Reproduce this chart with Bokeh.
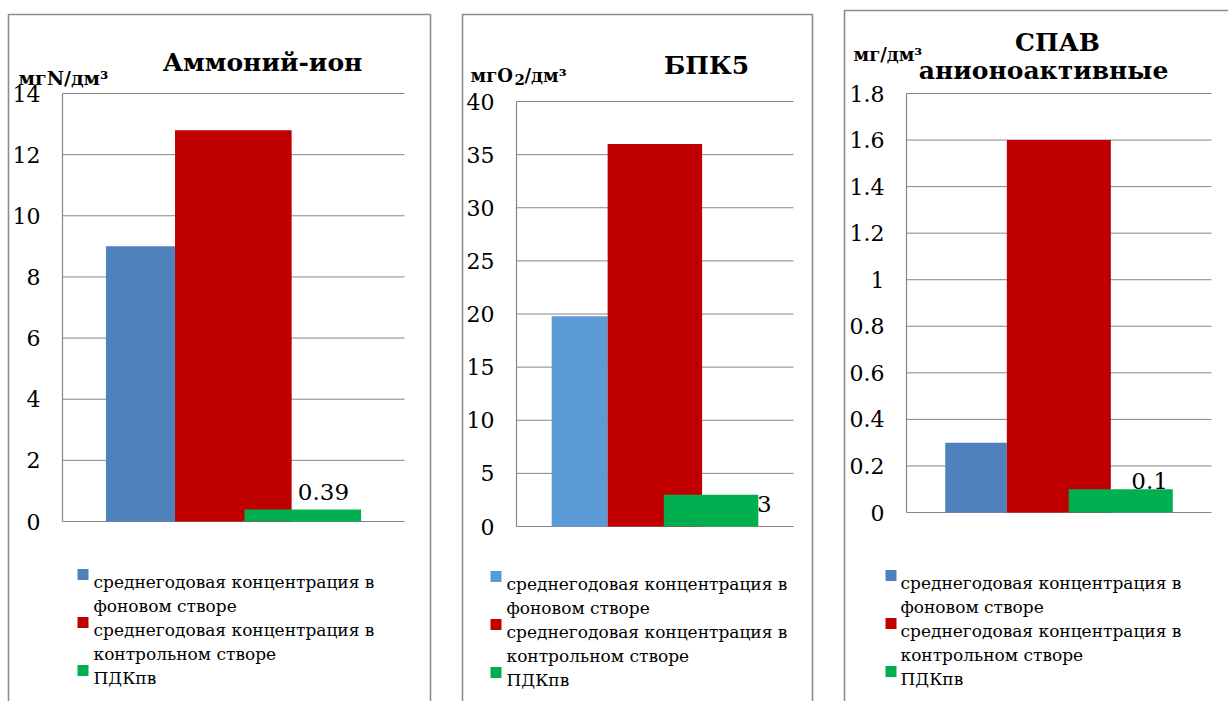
from bokeh.embed import file_html
from bokeh.layouts import row
from bokeh.models import FixedTicker, Label, Range1d
from bokeh.plotting import figure
from bokeh.resources import INLINE

# ---- data -------------------------------------------------------------
series_labels = [
    ["среднегодовая концентрация в", "фоновом створе"],
    ["среднегодовая концентрация в", "контрольном створе"],
    ["ПДКпв"],
]

# Аммоний-ион, мгN/дм3: background site, control site, MPC
ammonium_values = [9.0, 12.8, 0.39]
ammonium_ticks = [0, 2, 4, 6, 8, 10, 12, 14]
ammonium_tick_labels = ["0", "2", "4", "6", "8", "10", "12", "14"]

# БПК5, мгO2/дм3
bod5_values = [19.8, 36.0, 3]
bod5_ticks = [0, 5, 10, 15, 20, 25, 30, 35, 40]
bod5_tick_labels = ["0", "5", "10", "15", "20", "25", "30", "35", "40"]

# СПАВ анионоактивные, мг/дм3
surfactant_values = [0.3, 1.6, 0.1]
surfactant_ticks = [0, 0.2, 0.4, 0.6, 0.8, 1.0, 1.2, 1.4, 1.6, 1.8]
surfactant_tick_labels = ["0", "0.2", "0.4", "0.6", "0.8", "1", "1.2", "1.4", "1.6", "1.8"]

# ---- style ------------------------------------------------------------
FONT = "DejaVu Serif"
H = 701
GRID = "#868686"
FRAME = "#8c8c8c"
RED = "#C00000"
GREEN = "#00B050"
# bar extents inside the category band (0..1)
BAR_LEFT = [0.127, 0.329, 0.532]
BAR_RIGHT = [0.329, 0.670, 0.873]


def make_panel(values, ticks, tick_labels, cfg):
    off, W = cfg["left"], cfg["width"]
    pl, pr, pt, pb = cfg["plot"]
    ymax = ticks[-1]
    ppu = (pb - pt) / ymax

    def X(px):
        return (px - pl) / (pr - pl)

    def Y(py):
        return (pb - py) / ppu

    p = figure(width=W, height=H, output_backend="svg", toolbar_location=None,
               x_range=Range1d(X(off), X(off + W)), y_range=Range1d(Y(H), Y(0)),
               min_border=0, outline_line_color=None, x_axis_location=None,
               background_fill_color="white", border_fill_color="white")
    p.xgrid.visible = False
    p.ygrid.visible = False

    # panel frame (open at the bottom of the page)
    fl, fr, ft = cfg["frame"]
    p.line(x=[X(fl), X(fl), X(fr), X(fr)], y=[Y(H + 20), Y(ft), Y(ft), Y(H + 20)],
           line_color=FRAME, line_width=1.6)

    # horizontal gridlines
    p.segment(x0=[0] * len(ticks), x1=[1] * len(ticks), y0=ticks, y1=ticks,
              line_color=GRID, line_width=1)

    colors = [cfg["blue"], RED, GREEN]
    for i, v in enumerate(values):
        p.quad(left=BAR_LEFT[i], right=BAR_RIGHT[i], bottom=0, top=v,
               fill_color=colors[i], line_color=None)

    ax = p.yaxis[0]
    ax.fixed_location = 0
    ax.bounds = (0, ymax)
    ax.ticker = FixedTicker(ticks=ticks)
    ax.major_label_overrides = dict(zip(ticks, tick_labels))
    ax.axis_line_color = GRID
    ax.axis_line_width = 1.2
    ax.major_tick_out = 0
    ax.major_tick_in = 0
    ax.minor_tick_out = 0
    ax.minor_tick_in = 0
    ax.major_label_text_font = FONT
    ax.major_label_text_font_size = "22px"
    ax.major_label_text_color = "black"
    ax.major_label_standoff = 22

    # value label of the MPC bar
    vx, voff = cfg["value_label"]
    p.add_layout(Label(x=vx, y=values[2], y_offset=voff, text=f"{values[2]:g}",
                       text_font=FONT, text_font_size="23px", text_color="black",
                       text_align="center", text_baseline="alphabetic"))

    # title lines
    for text, cx, base, size in cfg["title"]:
        p.add_layout(Label(x=X(cx), y=Y(base), text=text, text_font=FONT,
                           text_font_size=size, text_font_style="bold",
                           text_color="black", text_align="center",
                           text_baseline="alphabetic"))
    # unit label pieces
    for text, lx, base, size in cfg["unit"]:
        p.add_layout(Label(x=X(lx), y=Y(base), text=text, text_font=FONT,
                           text_font_size=size, text_font_style="bold",
                           text_color="black", text_align="left",
                           text_baseline="alphabetic"))

    # legend
    sq_x, tx, b0, step = cfg["legend"]
    line = 0
    for i, lines in enumerate(series_labels):
        p.scatter(x=[X(sq_x)], y=[Y(b0 + line * step - 7)], marker="square",
                  size=11, fill_color=colors[i], line_color=None)
        for t in lines:
            p.add_layout(Label(x=X(tx), y=Y(b0 + line * step), text=t, text_font=FONT,
                               text_font_size="17px", text_color="black",
                               text_align="left", text_baseline="alphabetic"))
            line += 1
    return p


cfg1 = dict(left=0, width=446, plot=(62, 404, 93, 521), frame=(8, 430, 14),
            blue="#4F81BD", value_label=(0.763, 18),
            title=[("Аммоний-ион", 262, 62, "25px")],
            unit=[("мгN/дм³", 18, 77, "19px")],
            legend=(82.5, 93, 581, 24))
cfg2 = dict(left=446, width=382, plot=(516, 793, 101, 526), frame=(462, 812, 14),
            blue="#5B9BD5", value_label=(0.895, -9),
            title=[("БПК5", 706, 65, "25px")],
            unit=[("мгO", 470, 75, "18px"), ("2", 514, 79, "15px"), ("/дм³", 524, 75, "18px")],
            legend=(495.5, 506, 583, 24))
cfg3 = dict(left=828, width=400, plot=(906, 1211, 93, 512), frame=(844, 1260, 10),
            blue="#4F81BD", value_label=(0.797, 8),
            title=[("СПАВ", 1057, 42, "25px"), ("анионоактивные", 1043, 70, "25px")],
            unit=[("мг/дм³", 853, 54, "18px")],
            legend=(890.5, 900, 582, 24))

# shift each panel's page coordinates into its own canvas
for c in (cfg1, cfg2, cfg3):
    o = c["left"]
    pl, pr, pt, pb = c["plot"]
    c["plot"] = (pl - o, pr - o, pt, pb)
    c["frame"] = (c["frame"][0] - o, c["frame"][1] - o, c["frame"][2])
    c["title"] = [(t, x - o, b, s) for t, x, b, s in c["title"]]
    c["unit"] = [(t, x - o, b, s) for t, x, b, s in c["unit"]]
    sx, tx, b0, st = c["legend"]
    c["legend"] = (sx - o, tx - o, b0, st)
    c["left"] = 0

p1 = make_panel(ammonium_values, ammonium_ticks, ammonium_tick_labels, cfg1)
p2 = make_panel(bod5_values, bod5_ticks, bod5_tick_labels, cfg2)
p3 = make_panel(surfactant_values, surfactant_ticks, surfactant_tick_labels, cfg3)

layout = row(p1, p2, p3, spacing=0)
open("out.html", "w").write(file_html(layout, INLINE))
